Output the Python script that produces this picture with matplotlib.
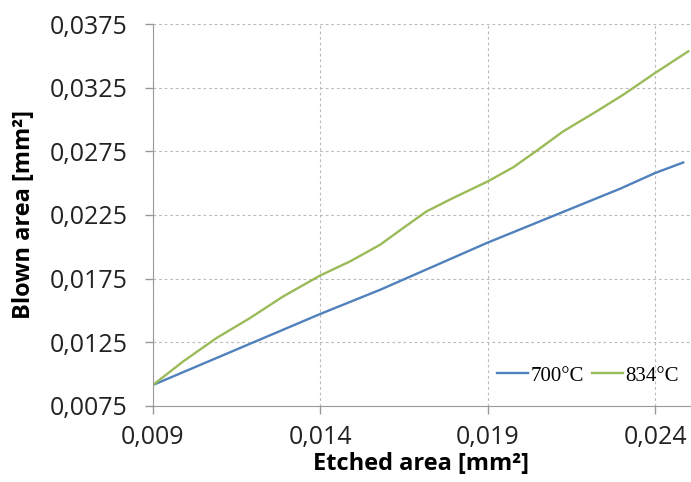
import numpy as np
from matplotlib import pyplot as plt
from matplotlib.ticker import FuncFormatter

# data
x_700 = [0.009, 0.014, 0.01578, 0.019, 0.02295, 0.024, 0.02484]
y_700 = [0.00913, 0.01472, 0.01661, 0.02033, 0.02456, 0.0258, 0.02663]

x_834 = [0.009, 0.00989, 0.01089, 0.01189, 0.01288, 0.014, 0.01488, 0.01578,
         0.01647, 0.01717, 0.01796, 0.019, 0.01976, 0.02046, 0.02125, 0.02225,
         0.02305, 0.024, 0.02499]
y_834 = [0.00913, 0.01096, 0.01281, 0.01438, 0.01608, 0.01775, 0.01884, 0.02015,
         0.02147, 0.02278, 0.02383, 0.02514, 0.02625, 0.02755, 0.02907, 0.03065,
         0.03196, 0.03367, 0.03537]

x_ticks = [0.009, 0.014, 0.019, 0.024]
y_ticks = [0.0075, 0.0125, 0.0175, 0.0225, 0.0275, 0.0325, 0.0375]

plt.rcParams['font.family'] = ['Open Sans', 'DejaVu Sans']

fig = plt.figure(figsize=(6.91, 4.82), dpi=100)
ax = fig.add_axes([0.2214, 0.1583, 0.777, 0.7913])

ax.plot(x_700, y_700, color='#4F81BD', lw=1.7, label='700°C')
ax.plot(x_834, y_834, color='#9BBB59', lw=1.7, label='834°C')

ax.set_xlim(0.009, 0.02504)
ax.set_ylim(0.0075, 0.0375)
ax.set_xticks(x_ticks)
ax.set_yticks(y_ticks)
ax.xaxis.set_major_formatter(FuncFormatter(lambda v, p: f"{v:.3f}".replace('.', ',')))
ax.yaxis.set_major_formatter(FuncFormatter(lambda v, p: f"{v:.4f}".replace('.', ',')))
ax.tick_params(labelsize=18, colors='#999999', labelcolor='#222222', length=6, width=1)
ax.tick_params(axis='y', pad=12)
ax.tick_params(axis='x', pad=8)

ax.grid(True, color='#bbbbbb', linestyle=(0, (2.5, 2.5)), lw=0.8)
for s in ['top', 'right']:
    ax.spines[s].set_visible(False)
for s in ['left', 'bottom']:
    ax.spines[s].set_color('#999999')

ax.set_xlabel('Etched area [mm²]', fontsize=17, fontweight='bold', labelpad=1)
ax.set_ylabel('Blown area [mm²]', fontsize=17, fontweight='bold', labelpad=10)

ax.legend(loc='center', bbox_to_anchor=(0.81, 0.078), ncol=2, frameon=False,
          handlelength=1.5, handletextpad=0.1, columnspacing=0.4,
          prop={'family': 'Liberation Serif', 'size': 15})

fig.savefig('out.png', dpi=100)
